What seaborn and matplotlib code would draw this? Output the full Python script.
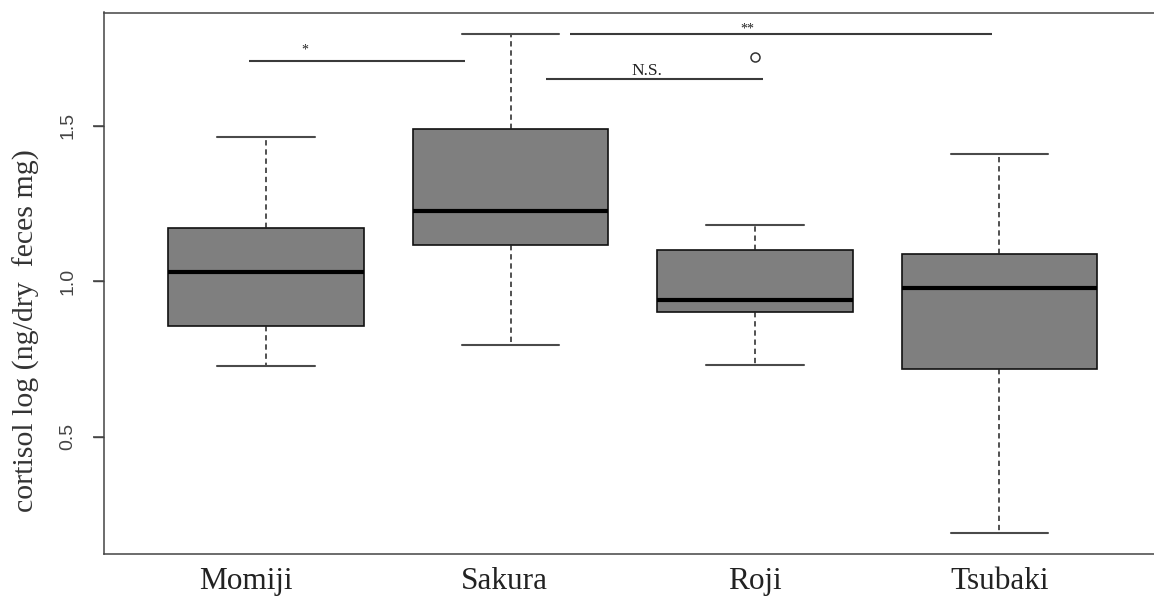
import numpy as np
import pandas as pd
import matplotlib
matplotlib.use("Agg")
import matplotlib.pyplot as plt
import matplotlib.transforms as mtrans
import seaborn as sns

# ---- data ----
groups = ["Momiji", "Sakura", "Roji", "Tsubaki"]
whisker_low = [0.727, 0.794, 0.730, 0.190]
q1 = [0.855, 1.115, 0.901, 0.718]
median = [1.030, 1.225, 0.939, 0.979]
q3 = [1.171, 1.488, 1.101, 1.086]
whisker_high = [1.463, 1.796, 1.180, 1.410]
outlier_group = ["Roji"]
outlier_value = [1.719]
y_ticks = [0.5, 1.0, 1.5]
y_label = "cortisol log (ng/dry  feces mg)"

# significance annotations (data coordinates, x = category index)
sig_labels = ["*", "**", "N.S."]
sig_x0 = [-0.070, 1.243, 1.145]
sig_x1 = [0.814, 2.969, 2.033]
sig_y = [1.709, 1.796, 1.651]
sig_text_x = [0.160, 1.967, 1.558]
sig_text_y = [1.733, 1.799, 1.664]

# long table: five-number summary per group
rows = []
for g, a, b, c, d, e in zip(groups, whisker_low, q1, median, q3, whisker_high):
    for v in (a, b, c, d, e):
        rows.append({"group": g, "value": v})
df = pd.DataFrame(rows)

sns.set_theme(style="ticks")
plt.rcParams["font.family"] = ["Liberation Serif", "DejaVu Serif"]
plt.rcParams["ytick.left"] = True
plt.rcParams["ytick.major.size"] = 8
plt.rcParams["ytick.major.width"] = 1.0
plt.rcParams["ytick.direction"] = "out"
plt.rcParams["ytick.color"] = "#444444"

fig = plt.figure(figsize=(11.54, 5.97), dpi=100)
W, H = 1154, 597
ax = fig.add_axes([104 / W, 1 - 553.5 / H, 1056 / W, (553.5 - 12.5) / H])

sns.boxplot(
    data=df, x="group", y="value", order=groups, ax=ax,
    width=0.8, color="#7f7f7f", saturation=1, whis=1.5, fliersize=0,
    linecolor="black", linewidth=1.1,
    boxprops=dict(edgecolor="#111111", linewidth=1.2),
    whiskerprops=dict(color="#222222", linewidth=1.1, linestyle=(0, (3.5, 2.5))),
    capprops=dict(color="#4a4a4a", linewidth=1.5),
    medianprops=dict(color="black", linewidth=3.0),
)

# outlier point
ox = [groups.index(g) for g in outlier_group]
ax.plot(ox, outlier_value, linestyle="none", marker="o", ms=6.5,
        mfc="none", mec="#333333", mew=1.1, zorder=5)

# significance lines and labels
sig_sizes = [10, 10, 12.5]
for lab, x0, x1, y, tx, ty, fs in zip(sig_labels, sig_x0, sig_x1, sig_y,
                                       sig_text_x, sig_text_y, sig_sizes):
    ax.plot([x0, x1], [y, y], color="#3a3a3a", lw=1.5, solid_capstyle="butt",
            zorder=4)
    ax.text(tx, ty, lab, ha="center", va="baseline", fontsize=fs,
            color="#222222", family=["Liberation Serif"])

ax.set_xlim(-0.663, 3.657)
ax.set_ylim(0.125, 1.8635)

for s in ax.spines.values():
    s.set_visible(True)
    s.set_color("#444444")
    s.set_linewidth(1.1)

ax.set_yticks(y_ticks)
ax.set_yticklabels([f"{t:.1f}" for t in y_ticks], rotation=90,
                   family=["Liberation Sans"], fontsize=14, color="#444444",
                   va="center")
ax.tick_params(axis="y", which="major", left=True, right=False,
               direction="out", length=8, width=1.0, color="#444444", pad=12)
ax.tick_params(axis="x", bottom=False, top=False, length=0, pad=10)
ax.set_xticks(range(len(groups)))
ax.set_xticklabels(groups, fontsize=22.5, color="#222222",
                   family=["Liberation Serif"])

# explicit outward tick marks at the y tick values (axis-anchored)
ytrans = ax.get_yaxis_transform()
tick_len = 11 / 1056  # in axes fraction
for t in y_ticks:
    ax.plot([-tick_len, 0], [t, t], transform=ytrans, color="#444444",
            lw=1.1, clip_on=False, solid_capstyle="butt", zorder=6)

# nudge first labels like in the reference
offsets_px = [-20, -6, 0, 0]
for lab, dx in zip(ax.get_xticklabels(), offsets_px):
    lab.set_transform(lab.get_transform() +
                      mtrans.ScaledTranslation(dx / 100, 0, fig.dpi_scale_trans))

ax.set_xlabel("")
ax.set_ylabel(y_label, fontsize=21.5, color="#333333",
              family=["Liberation Serif"])
ax.yaxis.set_label_coords(-0.061, 0.413)

fig.savefig("out.png", dpi=100)
